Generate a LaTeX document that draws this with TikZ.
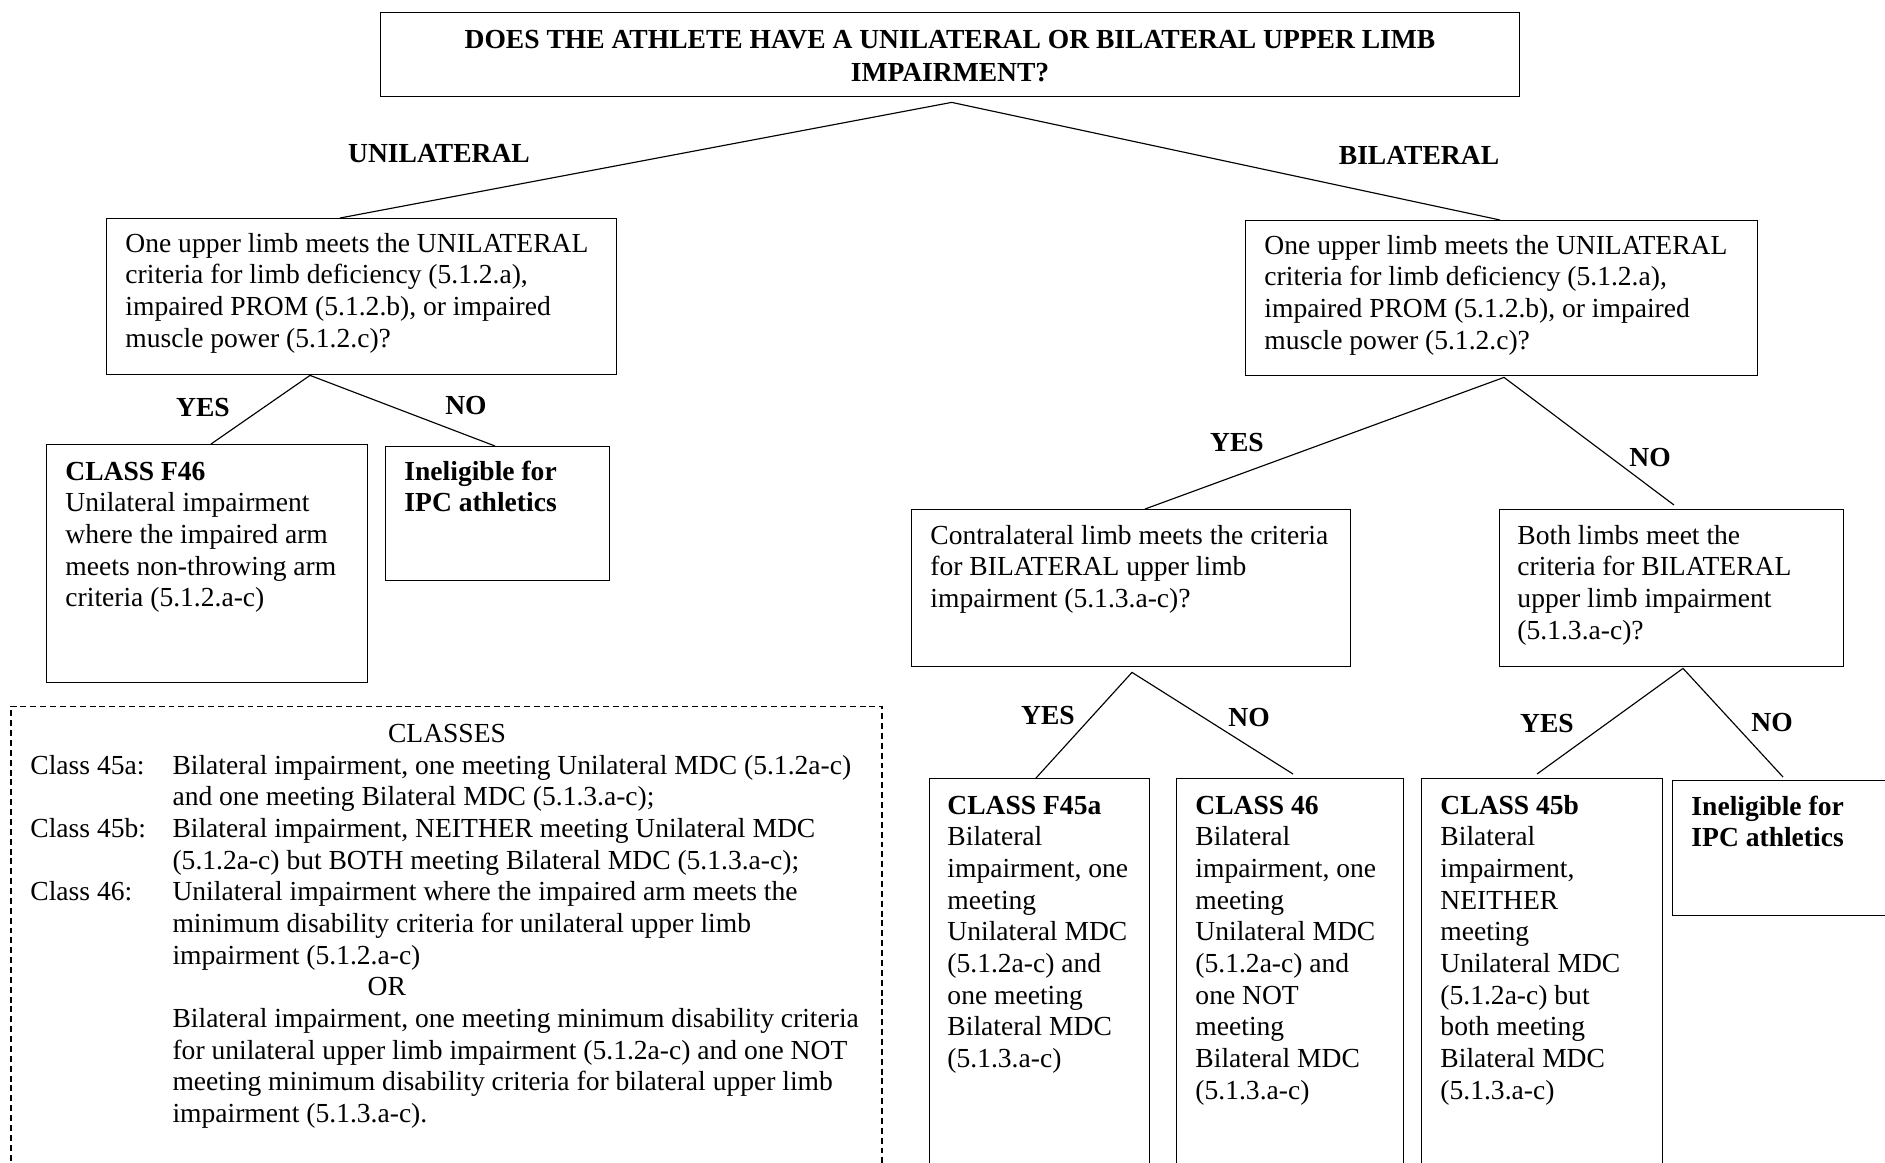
\documentclass[tikz,border=0pt]{standalone}
\usepackage{fontspec}
\setmainfont{Liberation Serif}
\usetikzlibrary{calc}
\newcommand\pxu{0.4356pt}
\newcommand\fs{\fontsize{12}{13.8}\selectfont}
\newcommand\ml[1]{\begin{tabular}[t]{@{}l@{}}#1\end{tabular}}
\newcommand\mcen[1]{\begin{tabular}[t]{@{}c@{}}#1\end{tabular}}
\begin{document}
\begin{tikzpicture}[x=0.4356pt,y=-0.4356pt,
  bx/.style={draw, line width=0.6pt, inner sep=0pt, anchor=north west},
  txt/.style={inner sep=0pt, anchor=base west, font=\fs},
  btxt/.style={inner sep=0pt, anchor=base west, font=\fs\bfseries},
  lbl/.style={inner sep=0pt, anchor=base, font=\fs\bfseries},
  conn/.style={line width=0.5pt}]
\path[use as bounding box] (0,0) rectangle (1885,1162);
\clip (0,0) rectangle (1885,1162);
\fill[white] (0,0) rectangle (1885,1162);

% boxes
\node[bx, minimum width=1139*\pxu, minimum height=84*\pxu] (top) at (380,12) {};
\node[bx, minimum width=510*\pxu, minimum height=156*\pxu] (lq) at (106,218) {};
\node[bx, minimum width=512*\pxu, minimum height=155*\pxu] (rq) at (1245,220) {};
\node[bx, minimum width=321*\pxu, minimum height=238*\pxu] (f46) at (46,444) {};
\node[bx, minimum width=224*\pxu, minimum height=134*\pxu] (inl) at (385,446) {};
\node[bx, minimum width=439*\pxu, minimum height=157*\pxu] (contra) at (911,509) {};
\node[bx, minimum width=344*\pxu, minimum height=157*\pxu] (both) at (1499,509) {};
\node[bx, minimum width=220*\pxu, minimum height=420*\pxu] (f45a) at (929,778) {};
\node[bx, minimum width=227*\pxu, minimum height=420*\pxu] (c46) at (1176,778) {};
\node[bx, minimum width=241*\pxu, minimum height=420*\pxu] (c45b) at (1421,778) {};
\node[bx, minimum width=240*\pxu, minimum height=135*\pxu] (inr) at (1672,780) {};
\node[bx, draw=none] (legend) at (11,706) {};
\draw[line width=0.45pt, dash pattern=on 2.6pt off 1.7pt] (11,1200) -- (11,706) -- (882,706) -- (882,1200);

% texts
\node[lbl] (ttop) at (950,48) {\mcen{DOES THE ATHLETE HAVE A UNILATERAL OR BILATERAL UPPER LIMB\\[0.6pt]IMPAIRMENT?}};
\node[lbl] (lunil) at (439,162) {UNILATERAL};
\node[lbl] (lbil) at (1419,164) {BILATERAL};

\node[txt] (tlq) at (125,252) {\ml{One upper limb meets the UNILATERAL\\criteria for limb deficiency (5.1.2.a),\\impaired PROM (5.1.2.b), or impaired\\muscle power (5.1.2.c)?}};
\node[txt] (trq) at (1264,254) {\ml{One upper limb meets the UNILATERAL\\criteria for limb deficiency (5.1.2.a),\\impaired PROM (5.1.2.b), or impaired\\muscle power (5.1.2.c)?}};

\node[txt] (tf46) at (65,480) {\ml{\textbf{CLASS F46}\\Unilateral impairment\\where the impaired arm\\meets non-throwing arm\\criteria (5.1.2.a-c)}};
\node[btxt] (tinl) at (404,480) {\ml{Ineligible for\\IPC athletics}};

\node[txt] (tcontra) at (930,544) {\ml{Contralateral limb meets the criteria\\for BILATERAL upper limb\\impairment (5.1.3.a-c)?}};
\node[txt] (tboth) at (1517,544) {\ml{Both limbs meet the\\criteria for BILATERAL\\upper limb impairment\\(5.1.3.a-c)?}};

\node[txt] (tf45a) at (947,814) {\ml{\textbf{CLASS F45a}\\Bilateral\\impairment, one\\meeting\\Unilateral MDC\\(5.1.2a-c) and\\one meeting\\Bilateral MDC\\(5.1.3.a-c)}};
\node[txt] (tc46) at (1195,814) {\ml{\textbf{CLASS 46}\\Bilateral\\impairment, one\\meeting\\Unilateral MDC\\(5.1.2a-c) and\\one NOT\\meeting\\Bilateral MDC\\(5.1.3.a-c)}};
\node[txt] (tc45b) at (1440,814) {\ml{\textbf{CLASS 45b}\\Bilateral\\impairment,\\NEITHER\\meeting\\Unilateral MDC\\(5.1.2a-c) but\\both meeting\\Bilateral MDC\\(5.1.3.a-c)}};
\node[btxt] (tinr) at (1691,815) {\ml{Ineligible for\\IPC athletics}};

% legend text
\node[inner sep=0pt, anchor=base, font=\fs] (tclasses) at (447,742) {CLASSES};
\node[txt] (tdefs) at (30,774) {\begin{tabular}[t]{@{}p{61.9pt}@{}l@{}}
Class 45a: & Bilateral impairment, one meeting Unilateral MDC (5.1.2a-c)\\
 & and one meeting Bilateral MDC (5.1.3.a-c);\\
Class 45b: & Bilateral impairment, NEITHER meeting Unilateral MDC\\
 & (5.1.2a-c) but BOTH meeting Bilateral MDC (5.1.3.a-c);\\
Class 46: & Unilateral impairment where the impaired arm meets the\\
 & minimum disability criteria for unilateral upper limb\\
 & impairment (5.1.2.a-c)\\
 & \hspace*{85pt}OR\\
 & Bilateral impairment, one meeting minimum disability criteria\\
 & for unilateral upper limb impairment (5.1.2a-c) and one NOT\\
 & meeting minimum disability criteria for bilateral upper limb\\
 & impairment (5.1.3.a-c).
\end{tabular}};

% branch labels
\node[lbl] (yes1) at (203,416) {YES};
\node[lbl] (no1) at (466,414) {NO};
\node[lbl] (yes2) at (1237,451) {YES};
\node[lbl] (no2) at (1650,466) {NO};
\node[lbl] (yes3) at (1048,724) {YES};
\node[lbl] (no3) at (1249,726) {NO};
\node[lbl] (yes4) at (1547,732) {YES};
\node[lbl] (no4) at (1772,731) {NO};

% connectors
\coordinate (apex) at ($(top.south)+(1.5,5)$);
\draw[conn] ($(lq.north west)+(234,0)$) -- (apex) -- ($(rq.north west)+(255,0)$);
\coordinate (lqb) at ($(lq.south west)+(204,0)$);
\draw[conn] ($(f46.north west)+(165,0)$) -- (lqb) -- ($(inl.north west)+(110,0)$);
\coordinate (rqb) at ($(rq.south west)+(259,1)$);
\draw[conn] ($(contra.north west)+(234,0)$) -- (rqb) -- ($(both.north west)+(175,-4)$);
\coordinate (cb) at ($(contra.south west)+(221,5)$);
\draw[conn] ($(f45a.north west)+(107,0)$) -- (cb) -- ($(c46.north west)+(117,-4)$);
\coordinate (bb) at ($(both.south west)+(184,1)$);
\draw[conn] ($(c45b.north west)+(116,-4)$) -- (bb) -- ($(inr.north west)+(111,-3)$);
\end{tikzpicture}
\end{document}
